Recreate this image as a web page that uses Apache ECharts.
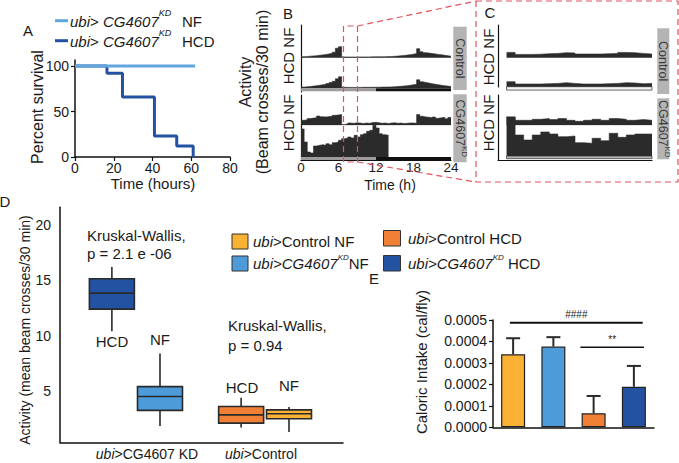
<!DOCTYPE html>
<html>
<head>
<meta charset="utf-8">
<title>CG4607 knockdown: survival, activity and caloric intake</title>
<script src="https://cdn.jsdelivr.net/npm/echarts@6/dist/echarts.min.js"></script>
<style>
  html, body { margin: 0; padding: 0; background: #fff; }
  #chart { width: 679px; height: 463px; }
</style>
</head>
<body>
<div id="chart"></div>
<script>
// A: percent survival against time (hours)
const survivalNF = [[0, 100], [62, 100]];
const survivalHCD = [[0, 100], [16.5, 92], [24.5, 66], [41, 23], [52.5, 12], [61, 0]];

// B: activity per 30 min bin over 24 h
const actControlNF = [1.0, 1.2, 1.5, 1.8, 2.0, 2.4, 2.8, 3.3, 3.8, 4.5, 5.5, 9.5, 11,
  0.8, 0.7, 0.7, 0.7, 0.7, 0.8, 0.8, 0.8, 0.8, 0.9, 0.9, 0.9, 1.0, 1.0, 1.1, 1.2, 1.4, 1.6, 1.9, 2.2,
  2.6, 3.0, 3.5, 4.2, 9.0, 6.0, 5.0, 4.6, 4.2, 3.8, 3.3, 2.9, 2.4, 2.0, 1.5];
const actControlHCD = [1.2, 1.5, 1.8, 2.2, 2.6, 3.0, 3.5, 4.0, 4.8, 5.8, 7.0, 9.5, 11.5,
  1.0, 0.9, 0.9, 0.9, 0.9, 0.9, 1.0, 1.0, 1.0, 1.0, 1.1, 1.1, 1.2, 1.2, 1.3, 1.4, 1.6, 1.8, 2.0, 2.3,
  2.6, 3.0, 3.5, 4.0, 8.5, 6.5, 5.8, 5.2, 4.6, 4.0, 3.5, 3.0, 2.6, 2.2, 1.8];
const actKdNF = [5.0, 5.5, 6.7, 7.2, 7.6, 9.3, 8.5, 8.3, 8.7, 9.0, 10.0, 10.3, 10.7,
  0.8, 1.5, 2.3, 2.0, 2.5, 2.2, 1.8, 2.3, 2.0, 2.7, 3.0, 2.5, 2.0, 2.3, 1.8, 2.2, 2.5, 2.0, 2.3, 1.7, 2.0, 2.4, 2.2, 2.0,
  10.7, 9.0, 8.3, 8.0, 7.5, 8.3, 7.0, 7.5, 8.0, 6.5, 7.8];
const actKdHCD = [28, 15, 5, 4, 11, 11.7, 12.3, 11.7, 13.3, 12.3, 14.3, 15, 16.7, 18.3, 19, 20,
  19, 21.7, 20, 22.3, 23.3, 25.7, 26.7, 31.7, 29, 23.3, 22.3, 21.7];
const lightDark = [[0, 12], [12, 24]];

// C: zoomed window, finer bins
const zoomControlNF = [5.3, 3.3, 3.3, 3.5, 4.0, 4.3, 5.0, 4.7, 3.7, 3.7, 3.7, 4.0, 4.3, 5.3, 5.0, 4.3, 3.7];
const zoomControlHCD = [5.0, 2.7, 2.7, 2.7, 3.0, 3.3, 4.0, 3.3, 2.7, 2.7, 2.7, 3.0, 3.3, 4.0, 3.7, 3.0, 3.3];
const zoomKdNF = [8.3, 5.0, 5.0, 6.0, 6.7, 5.7, 6.7, 5.0, 4.0, 5.0, 6.0, 5.0, 6.7, 6.0, 5.0, 5.7, 5.0];
const zoomKdHCD = [39, 21, 16, 21, 24, 22, 19.3, 20, 13.3, 12.7, 17.7, 15.3, 22.7, 18.7, 21, 22, 22];
const zoomSpan = [[0, 17]];

// D: mean beam crosses / 30 min, [min, q1, median, q3, max]
const boxGroups = ['HCD', 'NF', 'HCD', 'NF'];
const boxStats = [
  [10.4, 12.4, 13.85, 15.15, 16.2],
  [1.85, 3.25, 4.5, 5.4, 8.4],
  [1.7, 2.1, 2.85, 3.6, 4.4],
  [1.3, 2.5, 2.95, 3.3, 3.55]
];

// E: caloric intake (cal/fly), mean and error
const intakeGroups = ['ubi>Control NF', 'ubi>CG4607KD NF', 'ubi>Control HCD', 'ubi>CG4607KD HCD'];
const intakeMean = [0.000340, 0.000376, 0.000065, 0.000189];
const intakeErr = [0.000075, 0.000044, 0.000081, 0.000097];
const intakeBrackets = [[-0.08, 3.22, 0.000487, '####'], [1.67, 3.25, 0.000373, '**']];

const FONT = '"Liberation Sans", Arial, sans-serif';
const INK = '#1a1a1a';
const HIST = '#2b2b2b';
const RED = '#e0525c';
const C_CTRL_NF = '#f9b234';
const C_KD_NF = '#4e9bd9';
const C_CTRL_HCD = '#f08035';
const C_KD_HCD = '#2452a2';
const boxColors = [C_KD_HCD, C_KD_NF, C_CTRL_HCD, C_CTRL_NF];
const barColors = [C_CTRL_NF, C_KD_NF, C_CTRL_HCD, C_KD_HCD];
const boxPos = [2.2, 4.24, 7.68, 9.71];

const grids = [];
const xAxes = [];
const yAxes = [];
const series = [];

function addGrid(rect, xa, ya) {
  const gi = grids.length;
  grids.push(Object.assign({ outerBoundsMode: 'none', containLabel: false }, rect));
  xAxes.push(Object.assign({ gridIndex: gi, show: false, type: 'value', splitLine: { show: false } }, xa));
  yAxes.push(Object.assign({ gridIndex: gi, show: false, type: 'value', splitLine: { show: false } }, ya));
  return gi;
}

const axisLine = (w) => ({ show: true, onZero: false, lineStyle: { color: '#111', width: w } });

function stepData(values) {
  const pts = values.map((v, i) => [i, v]);
  pts.push([values.length, values[values.length - 1]]);
  return pts;
}

function histogram(gi, values, scale) {
  series.push({
    type: 'line', xAxisIndex: gi, yAxisIndex: gi, step: 'end', symbol: 'none', silent: true,
    data: stepData(values).map(([i, v]) => [i * scale, v]),
    lineStyle: { color: HIST, width: 0.6 },
    areaStyle: { color: HIST, opacity: 1 }
  });
}

function baseBand(gi, spans, h, fills, stroke) {
  series.push({
    type: 'custom', xAxisIndex: gi, yAxisIndex: gi, data: spans, silent: true,
    encode: { x: [0, 1] },
    renderItem(params, api) {
      const s = api.coord([api.value(0), 0]);
      const e = api.coord([api.value(1), 0]);
      return {
        type: 'rect', shape: { x: s[0], y: s[1], width: e[0] - s[0], height: h },
        style: { fill: fills[params.dataIndex], stroke: stroke || null, lineWidth: stroke ? 0.8 : 0 }
      };
    }
  });
}

// ---- A
const gA = addGrid({ left: 75, top: 60, width: 155, height: 97 },
  {
    show: true, min: 0, max: 80, interval: 20, axisLine: axisLine(1.5),
    axisTick: { show: true, length: 4, lineStyle: { color: '#111', width: 1.2 } },
    axisLabel: { fontFamily: FONT, fontSize: 14, color: INK, margin: 4 }
  },
  {
    show: true, min: 0, max: 106.6, axisLine: axisLine(1.5),
    axisTick: { show: true, length: 4, customValues: [0, 50, 100], lineStyle: { color: '#111', width: 1.2 } },
    axisLabel: { fontFamily: FONT, fontSize: 14, color: INK, margin: 6, customValues: [0, 50, 100] }
  });
series.push({ type: 'line', xAxisIndex: gA, yAxisIndex: gA, data: survivalHCD, step: 'end', symbol: 'none',
  lineStyle: { color: C_KD_HCD, width: 3 } });
series.push({ type: 'line', xAxisIndex: gA, yAxisIndex: gA, data: survivalNF, symbol: 'none', z: 3,
  lineStyle: { color: '#62a6de', width: 3 } });

// ---- B
addGrid({ left: 301, top: 25, width: 150, height: 67 }, { min: 0, max: 24 },
  { show: true, axisLine: axisLine(1.2), axisTick: { show: false }, axisLabel: { show: false } });
addGrid({ left: 301, top: 95, width: 150, height: 65.7 },
  {
    show: true, min: 0, max: 24, interval: 6, axisLine: axisLine(1.2), axisTick: { show: false },
    axisLabel: { fontFamily: FONT, fontSize: 13.5, color: INK, margin: 0 }
  },
  { show: true, axisLine: axisLine(1.2), axisTick: { show: false }, axisLabel: { show: false } });

const bRows = [
  [26, 31.7, actControlNF], [57.7, 30.6, actControlHCD], [95, 30.3, actKdNF], [125.3, 31.7, actKdHCD]
];
bRows.forEach(([top, h, values], r) => {
  const gi = addGrid({ left: 301, top, width: 150, height: h }, { min: 0, max: 24 }, { min: 0, max: h });
  histogram(gi, values, 0.5);
  if (r === 1 || r === 3) baseBand(gi, lightDark, 3, ['#9c9c9c', '#111']);
});

// ---- C
addGrid({ left: 498, top: 25, width: 154, height: 62 }, { min: -1, max: 17 },
  { show: true, axisLine: axisLine(1.2), axisTick: { show: false }, axisLabel: { show: false } });
addGrid({ left: 498, top: 95, width: 154, height: 65 },
  { show: true, min: -1, max: 17, axisLine: axisLine(1.2), axisTick: { show: false }, axisLabel: { show: false } },
  { show: true, axisLine: axisLine(1.2), axisTick: { show: false }, axisLabel: { show: false } });

const cRows = [
  [25, 32.7, zoomControlNF], [57.7, 29, zoomControlHCD], [95, 30.3, zoomKdNF], [116, 40, zoomKdHCD]
];
cRows.forEach(([top, h, values], r) => {
  const gi = addGrid({ left: 498, top, width: 154, height: h }, { min: -1, max: 17 }, { min: 0, max: h });
  histogram(gi, values, 1);
  if (r === 1) baseBand(gi, zoomSpan, 3.4, ['#f2f2f2'], '#444');
  if (r === 3) baseBand(gi, zoomSpan, 2.7, ['#b5b5b5'], '#444');
});

// ---- D
const gD = addGrid({ left: 60, top: 207.3, width: 283, height: 235.2 },
  { show: true, min: 0, max: 12, axisLine: axisLine(1.5), axisTick: { show: false }, axisLabel: { show: false } },
  {
    show: true, min: 0.35, max: 21.6, axisLine: axisLine(1.5), axisTick: { show: false },
    axisLabel: { fontFamily: FONT, fontSize: 14, color: INK, margin: 9, customValues: [5, 10, 15, 20] }
  });
series.push({
  type: 'custom', xAxisIndex: gD, yAxisIndex: gD,
  data: boxStats.map((s, i) => [boxPos[i]].concat(s)),
  encode: { x: 0, y: [1, 2, 3, 4, 5] },
  renderItem(params, api) {
    const x = api.value(0);
    const cx = api.coord([x, 0])[0];
    const y = [1, 2, 3, 4, 5].map((d) => api.coord([x, api.value(d)])[1]);
    const half = 22.5;
    const pen = { stroke: '#2a2a2a', lineWidth: 1.6 };
    return {
      type: 'group',
      children: [
        { type: 'line', shape: { x1: cx, y1: y[4], x2: cx, y2: y[3] }, style: pen },
        { type: 'line', shape: { x1: cx, y1: y[1], x2: cx, y2: y[0] }, style: pen },
        { type: 'rect', shape: { x: cx - half, y: y[3], width: half * 2, height: y[1] - y[3] },
          style: Object.assign({ fill: boxColors[params.dataIndex] }, pen) },
        { type: 'line', shape: { x1: cx - half, y1: y[2], x2: cx + half, y2: y[2] }, style: pen }
      ]
    };
  }
});

// ---- E
const gE = addGrid({ left: 493, top: 320, width: 161, height: 107.3 },
  { show: true, type: 'category', data: intakeGroups, axisLine: axisLine(1.5), axisTick: { show: false }, axisLabel: { show: false } },
  {
    show: true, min: 0, max: 0.0005, interval: 0.0001, axisLine: axisLine(1.5),
    axisTick: { show: true, length: 4, lineStyle: { color: '#111', width: 1.2 } },
    axisLabel: { fontFamily: FONT, fontSize: 14, color: INK, margin: 6, formatter: (v) => v.toFixed(4) }
  });
series.push({
  type: 'bar', xAxisIndex: gE, yAxisIndex: gE, barWidth: 24,
  data: intakeMean.map((v, i) => ({ value: v, itemStyle: { color: barColors[i] } })),
  itemStyle: { borderColor: '#222', borderWidth: 1.2 }
});
series.push({
  type: 'custom', xAxisIndex: gE, yAxisIndex: gE, z: 4,
  data: intakeMean.map((m, i) => [i, m, m + intakeErr[i]]),
  encode: { x: 0, y: [1, 2] },
  renderItem(params, api) {
    const lo = api.coord([api.value(0), api.value(1)]);
    const hi = api.coord([api.value(0), api.value(2)]);
    const pen = { stroke: '#2a2a2a', lineWidth: 2 };
    return {
      type: 'group',
      children: [
        { type: 'line', shape: { x1: lo[0], y1: lo[1], x2: hi[0], y2: hi[1] }, style: pen },
        { type: 'line', shape: { x1: hi[0] - 7, y1: hi[1], x2: hi[0] + 7, y2: hi[1] }, style: pen }
      ]
    };
  }
});
series.push({
  type: 'custom', xAxisIndex: gE, yAxisIndex: gE, z: 4,
  data: intakeBrackets,
  encode: { y: 2 },
  renderItem(params, api) {
    const band = api.size([1, 0])[0];
    const c0 = api.coord([0, api.value(2)]);
    const x1 = c0[0] + api.value(0) * band;
    const x2 = c0[0] + api.value(1) * band;
    const y = c0[1];
    const mark = intakeBrackets[params.dataIndex][3];
    return {
      type: 'group',
      children: [
        { type: 'line', shape: { x1, y1: y, x2, y2: y }, style: { stroke: '#111', lineWidth: params.dataIndex === 0 ? 2 : 1.3 } },
        { type: 'text', x: (x1 + x2) / 2, y: y - 8,
          style: { text: mark, fontFamily: FONT, fontSize: 10, fill: '#222', align: 'center', verticalAlign: 'middle' } }
      ]
    };
  }
});

// ---- text and decorations
function richSet(size, supSize, lh) {
  const base = { fontFamily: FONT, fontSize: size, fill: INK, lineHeight: lh };
  return {
    n: base,
    i: Object.assign({}, base, { fontStyle: 'italic' }),
    s: { fontFamily: FONT, fontSize: supSize, fontStyle: 'italic', fill: INK, verticalAlign: 'top', lineHeight: supSize + 1 }
  };
}
function label(x, y, text, o = {}) {
  return {
    type: 'text', x, y, rotation: o.rotation || 0, z: 50,
    style: {
      text, fontFamily: FONT, fontSize: o.size || 15, fill: o.color || INK,
      align: o.align || 'center', verticalAlign: 'middle', rich: o.rich
    }
  };
}
function dashed(points) {
  return { type: 'polyline', z: 60, shape: { points }, style: { stroke: RED, lineWidth: 1.2, lineDash: [6, 4], fill: null } };
}
function strip(x, y, w, h, text, rich) {
  return [
    { type: 'rect', z: 40, shape: { x, y, width: w, height: h }, style: { fill: '#b4b4b4' } },
    label(x + w / 2, y + h / 2, text, { size: 12.5, color: '#3a3a3a', rotation: -Math.PI / 2, rich })
  ];
}
const UP = Math.PI / 2;
const legendRich = richSet(15, 9, 26);
const stripRich = {
  n: { fontFamily: FONT, fontSize: 12.5, fill: '#3a3a3a', lineHeight: 16 },
  s: { fontFamily: FONT, fontSize: 8, fill: '#3a3a3a', verticalAlign: 'top', lineHeight: 9 }
};
const keyRich = richSet(15, 8, 20);
const axisNameRich = richSet(14, 8, 16);

const graphics = [
  // A
  label(28, 30, 'A', { size: 15 }),
  { type: 'line', z: 50, shape: { x1: 55, y1: 20.7, x2: 68, y2: 20.7 }, style: { stroke: '#62a6de', lineWidth: 3 } },
  { type: 'line', z: 50, shape: { x1: 55, y1: 40.7, x2: 68, y2: 40.7 }, style: { stroke: C_KD_HCD, lineWidth: 3 } },
  label(70, 21, '{i|ubi}{n|> }{i|CG4607}{s|KD}', { align: 'left', rich: legendRich }),
  label(70, 41, '{i|ubi}{n|> }{i|CG4607}{s|KD}', { align: 'left', rich: legendRich }),
  label(182, 21, 'NF', { align: 'left', size: 15 }),
  label(182, 41, 'HCD', { align: 'left', size: 15 }),
  label(37, 107, 'Percent survival', { size: 16, rotation: UP }),
  label(153, 183, 'Time (hours)', { size: 15 }),
  // B
  label(288, 13.5, 'B', { size: 15 }),
  label(245, 82, 'Activity', { size: 16, rotation: UP }),
  label(262, 92, '(Beam crosses/30 min)', { size: 16, rotation: UP }),
  label(288, 56, 'HCD NF', { rotation: UP }),
  label(288, 123, 'HCD NF', { rotation: UP }),
  label(390, 185, 'Time (h)', { size: 14 }),
  ...strip(453.3, 26.7, 13.4, 63.3, '{n|Control}', stripRich),
  ...strip(453.3, 94.3, 13.4, 68, '{n|CG4607}{s|KD}', stripRich),
  // C
  label(490, 12.5, 'C', { size: 15 }),
  label(488, 57, 'HCD NF', { rotation: UP }),
  label(488, 123, 'HCD NF', { rotation: UP }),
  ...strip(657.3, 28.3, 12, 65.7, '{n|Control}', stripRich),
  ...strip(657.3, 98.3, 12, 61, '{n|CG4607}{s|KD}', stripRich),
  // zoom guides
  dashed([[343.5, 162], [343.5, 26], [357.5, 26], [357.5, 162], [343.5, 162]]),
  dashed([[357.5, 26], [476, 1]]),
  dashed([[357.5, 162], [476, 182]]),
  dashed([[476, 1], [678, 1], [678, 182], [476, 182], [476, 1]]),
  // D
  label(5, 201, 'D', { size: 15 }),
  label(25, 330, 'Activity (mean beam crosses/30 min)', { size: 14, rotation: UP }),
  label(87, 235, 'Kruskal-Wallis,', { align: 'left' }),
  label(87, 253, 'p = 2.1 e -06', { align: 'left' }),
  label(228, 325, 'Kruskal-Wallis,', { align: 'left' }),
  label(228, 345, 'p = 0.94', { align: 'left' }),
  label(112, 341, boxGroups[0]),
  label(160, 339, boxGroups[1]),
  label(242, 387, boxGroups[2]),
  label(289, 385, boxGroups[3]),
  label(147, 454, '{i|ubi}{n|>CG4607 KD}', { rich: axisNameRich }),
  label(261, 454, '{i|ubi}{n|>Control}', { rich: axisNameRich }),
  // legend
  { type: 'rect', z: 50, shape: { x: 232, y: 234, width: 16, height: 15 }, style: { fill: C_CTRL_NF, stroke: '#333', lineWidth: 1 } },
  { type: 'rect', z: 50, shape: { x: 232, y: 256, width: 16, height: 15 }, style: { fill: C_KD_NF, stroke: '#333', lineWidth: 1 } },
  { type: 'rect', z: 50, shape: { x: 383.5, y: 230.5, width: 17, height: 15.5 }, style: { fill: C_CTRL_HCD, stroke: '#333', lineWidth: 1 } },
  { type: 'rect', z: 50, shape: { x: 383.5, y: 255.5, width: 17, height: 15.5 }, style: { fill: C_KD_HCD, stroke: '#333', lineWidth: 1 } },
  label(253, 241.5, '{i|ubi}{n|>Control NF}', { align: 'left', rich: keyRich }),
  label(253, 263.5, '{i|ubi>CG4607}{s|KD}{n|NF}', { align: 'left', rich: keyRich }),
  label(408, 238, '{i|ubi}{n|>Control HCD}', { align: 'left', rich: keyRich }),
  label(408, 263, '{i|ubi>CG4607}{s|KD}{n| HCD}', { align: 'left', rich: keyRich }),
  // E
  label(374, 278, 'E', { size: 15 }),
  label(421.7, 362, 'Caloric Intake (cal/fly)', { size: 15, rotation: UP })
];

const chart = echarts.init(document.getElementById('chart'), null, { renderer: 'svg' });
chart.setOption({
  animation: false,
  backgroundColor: '#fff',
  textStyle: { fontFamily: FONT },
  grid: grids,
  xAxis: xAxes,
  yAxis: yAxes,
  series,
  graphic: graphics
});
</script>
</body>
</html>
